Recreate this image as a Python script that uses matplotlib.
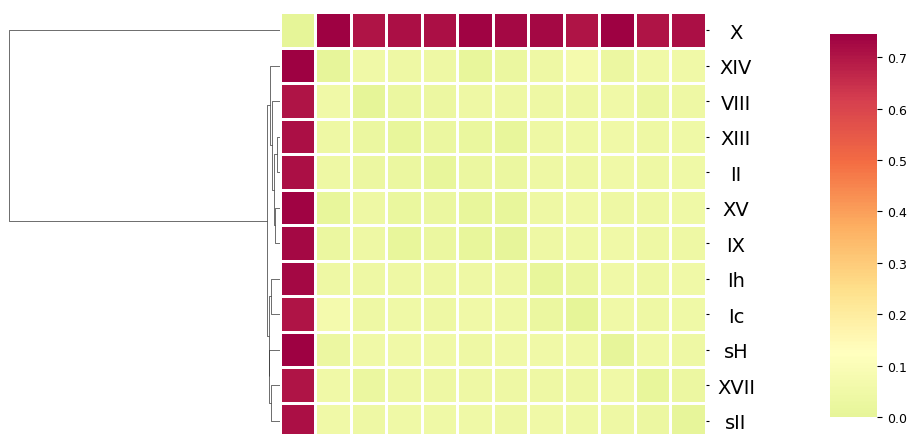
import numpy as np
import matplotlib
matplotlib.use("Agg")
import matplotlib.pyplot as plt
from matplotlib.collections import LineCollection
from matplotlib.colors import ListedColormap
import seaborn as sns

labels = ["X", "XIV", "VIII", "XIII", "II", "XV", "IX", "Ih", "Ic", "sH", "XVII", "sII"]

dist = np.array([
    [0.000, 0.745, 0.704, 0.715, 0.715, 0.736, 0.729, 0.729, 0.704, 0.742, 0.704, 0.715],
    [0.745, 0.004, 0.052, 0.038, 0.038, 0.012, 0.024, 0.038, 0.068, 0.031, 0.052, 0.052],
    [0.704, 0.052, 0.000, 0.024, 0.031, 0.038, 0.038, 0.038, 0.038, 0.052, 0.024, 0.038],
    [0.715, 0.038, 0.024, 0.010, 0.024, 0.018, 0.012, 0.038, 0.045, 0.052, 0.038, 0.045],
    [0.715, 0.038, 0.031, 0.024, 0.010, 0.024, 0.024, 0.038, 0.038, 0.052, 0.038, 0.045],
    [0.736, 0.012, 0.038, 0.018, 0.024, 0.010, 0.012, 0.038, 0.052, 0.038, 0.038, 0.045],
    [0.729, 0.024, 0.038, 0.012, 0.024, 0.012, 0.004, 0.038, 0.045, 0.052, 0.038, 0.038],
    [0.729, 0.038, 0.038, 0.038, 0.038, 0.038, 0.038, 0.010, 0.024, 0.052, 0.038, 0.052],
    [0.704, 0.068, 0.038, 0.045, 0.038, 0.052, 0.045, 0.024, 0.000, 0.052, 0.038, 0.045],
    [0.742, 0.031, 0.052, 0.052, 0.052, 0.038, 0.052, 0.052, 0.052, 0.004, 0.052, 0.038],
    [0.704, 0.052, 0.024, 0.038, 0.038, 0.038, 0.038, 0.038, 0.038, 0.052, 0.010, 0.031],
    [0.715, 0.052, 0.038, 0.045, 0.045, 0.045, 0.038, 0.052, 0.045, 0.038, 0.031, 0.004],
])

# row linkage: (child a, child b, height); leaves are row indices, new clusters 12, 13, ...
merges = [
    (3, 4, 0.021),
    (5, 6, 0.038),
    (12, 13, 0.047),
    (2, 14, 0.070),
    (1, 15, 0.090),
    (7, 8, 0.075),
    (10, 11, 0.075),
    (9, 18, 0.093),
    (17, 19, 0.099),
    (16, 20, 0.117),
    (0, 21, 2.45),
]

W, H = 909, 435


def fbox(x0, y0, x1, y1):
    return [x0 / W, 1 - y1 / H, (x1 - x0) / W, (y1 - y0) / H]


fig = plt.figure(figsize=(W / 100, H / 100), dpi=100)
heat_ax = fig.add_axes(fbox(279.5, 13.3, 705.7, 439.3))
den_ax = fig.add_axes(fbox(-4.8, 13.3, 279.5, 439.3))
cbar_ax = fig.add_axes(fbox(830, 35, 877, 418))

cmap = ListedColormap(plt.get_cmap("Spectral_r")(np.linspace(0.4, 1.0, 256)))

sns.heatmap(dist, ax=heat_ax, cbar_ax=cbar_ax, cmap=cmap, vmin=0, vmax=dist.max(),
            linewidths=0.75, linecolor="white", xticklabels=False, yticklabels=labels)

heat_ax.yaxis.tick_right()
heat_ax.tick_params(axis="y", length=2.5, pad=19.3, labelsize=14, labelrotation=0)
for t in heat_ax.get_yticklabels():
    t.set_ha("center")

cbar_ax.tick_params(labelsize=9)

# dendrogram
n = len(labels)
pos = {i: i + 0.5 for i in range(n)}
hgt = {i: 0.0 for i in range(n)}
segs = []
for k, (a, b, h) in enumerate(merges):
    segs.append([(hgt[a], pos[a]), (h, pos[a]), (h, pos[b]), (hgt[b], pos[b])])
    pos[n + k] = (pos[a] + pos[b]) / 2
    hgt[n + k] = h
den_ax.add_collection(LineCollection(segs, colors=[(.2, .2, .2)], linewidths=.5))
den_ax.set_xlim(max(m[2] for m in merges) * 1.05, 0)
den_ax.set_ylim(n, 0)
den_ax.axis("off")

fig.savefig("out.png", dpi=100)
